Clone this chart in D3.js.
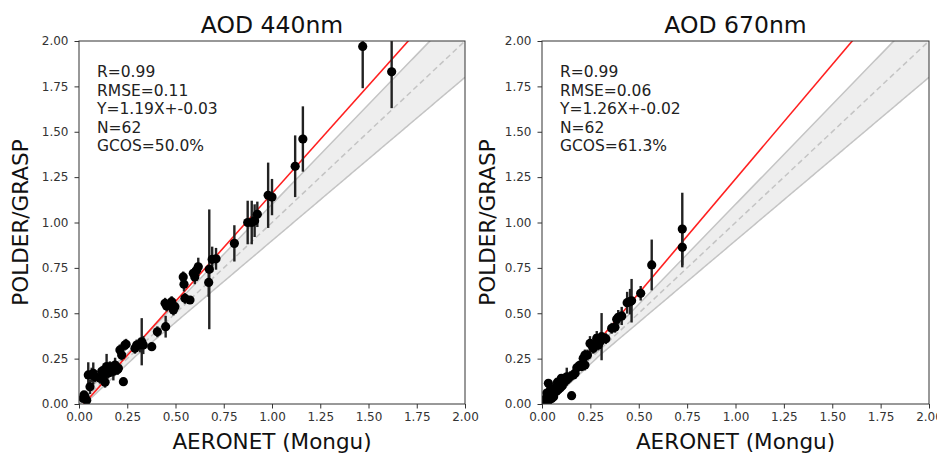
<!DOCTYPE html>
<html><head><meta charset="utf-8">
<script src="https://cdn.jsdelivr.net/npm/d3@7"></script>
<style>body{margin:0;background:#fff;} svg{display:block;font-family:"DejaVu Sans",sans-serif;}</style>
</head><body><svg id="c" width="937" height="453"></svg>
<script>
const tickValues = [0, 0.25, 0.5, 0.75, 1.0, 1.25, 1.5, 1.75, 2.0];
const titles = ["AOD 440nm", "AOD 670nm"];
const xLabel = "AERONET (Mongu)";
const yLabel = "POLDER/GRASP";
const statsLeft = ["R=0.99", "RMSE=0.11", "Y=1.19X+-0.03", "N=62", "GCOS=50.0%"];
const statsRight = ["R=0.99", "RMSE=0.06", "Y=1.26X+-0.02", "N=62", "GCOS=61.3%"];
const fitLeft = {slope: 1.19, intercept: -0.03};
const fitRight = {slope: 1.26, intercept: -0.02};

const x440 = [1.47,1.62,1.16,1.12,0.98,1.00,0.924,0.91,0.895,0.874,0.805,0.71,0.69,0.675,0.672,0.618,0.61,0.592,0.60,0.54,0.544,0.549,0.575,0.48,0.497,0.489,0.446,0.454,0.449,0.406,0.377,0.325,0.333,0.316,0.29,0.299,0.238,0.244,0.212,0.221,0.23,0.187,0.204,0.17,0.178,0.16,0.126,0.143,0.109,0.118,0.074,0.083,0.066,0.048,0.057,0.031,0.022,0.04,0.026,0.15,0.20,0.135];
const y440 = [1.97,1.83,1.46,1.31,1.15,1.14,1.045,1.01,1.00,1.00,0.885,0.80,0.797,0.742,0.67,0.756,0.738,0.72,0.70,0.70,0.66,0.582,0.573,0.564,0.536,0.518,0.555,0.54,0.426,0.398,0.316,0.343,0.325,0.325,0.307,0.325,0.325,0.329,0.298,0.27,0.123,0.215,0.197,0.19,0.18,0.205,0.16,0.206,0.142,0.18,0.169,0.15,0.16,0.16,0.095,0.04,0.031,0.02,0.05,0.17,0.19,0.12];
const e440 = [0.23,0.20,0.18,0.17,0.18,0.10,0.07,0.09,0.12,0.12,0.10,0.06,0.07,0.33,0.08,0.05,0.04,0.03,0.04,0.03,0.04,0.03,0.02,0.03,0.04,0.03,0.03,0.03,0.06,0.03,0.02,0.13,0.05,0.04,0.03,0.03,0.03,0.03,0.03,0.03,0.02,0.04,0.03,0.04,0.05,0.03,0.05,0.07,0.03,0.03,0.06,0.03,0.04,0.07,0.04,0.02,0.01,0.01,0.02,0.03,0.03,0.03];

const x670 = [0.725,0.725,0.567,0.51,0.455,0.44,0.463,0.412,0.394,0.386,0.377,0.36,0.308,0.30,0.291,0.274,0.257,0.248,0.265,0.283,0.222,0.213,0.205,0.222,0.196,0.171,0.162,0.145,0.128,0.10,0.153,0.033,0.11,0.09,0.08,0.07,0.06,0.05,0.04,0.03,0.02,0.015,0.01,0.045,0.055,0.065,0.075,0.085,0.095,0.105,0.115,0.125,0.135,0.035,0.025,0.05,0.06,0.02,0.08,0.18,0.235,0.33];
const y670 = [0.964,0.863,0.766,0.61,0.564,0.558,0.569,0.485,0.478,0.467,0.423,0.417,0.371,0.343,0.325,0.334,0.325,0.334,0.307,0.362,0.27,0.252,0.206,0.215,0.215,0.169,0.16,0.15,0.15,0.142,0.046,0.114,0.12,0.11,0.10,0.09,0.08,0.06,0.05,0.04,0.03,0.02,0.01,0.085,0.05,0.065,0.07,0.08,0.09,0.10,0.13,0.13,0.14,0.02,0.06,0.03,0.04,0.005,0.12,0.20,0.27,0.36];
const e670 = [0.20,0.11,0.14,0.04,0.07,0.06,0.12,0.05,0.04,0.03,0.03,0.03,0.13,0.04,0.03,0.05,0.03,0.04,0.03,0.04,0.03,0.03,0.02,0.03,0.02,0.03,0.02,0.03,0.05,0.02,0.01,0.02,0.02,0.02,0.02,0.02,0.01,0.01,0.01,0.01,0.01,0.01,0.01,0.02,0.01,0.01,0.01,0.02,0.02,0.02,0.02,0.02,0.02,0.01,0.01,0.01,0.01,0.01,0.02,0.03,0.03,0.03];

const svg = d3.select("#c");
const panels = [
  {left: 79, right: 465, ylabX: 28, title: titles[0], stats: statsLeft, fit: fitLeft, xs: x440, ys: y440, es: e440},
  {left: 542, right: 929, ylabX: 495, title: titles[1], stats: statsRight, fit: fitRight, xs: x670, ys: y670, es: e670}
];
const plotTop = 41, plotBottom = 404;

panels.forEach((p, i) => {
  const x = d3.scaleLinear().domain([0, 2]).range([p.left, p.right]);
  const y = d3.scaleLinear().domain([0, 2]).range([plotBottom, plotTop]);
  const cid = "clip" + i;
  svg.append("clipPath").attr("id", cid).append("rect")
    .attr("x", p.left).attr("y", plotTop).attr("width", p.right - p.left).attr("height", plotBottom - plotTop);
  const g = svg.append("g").attr("clip-path", `url(#${cid})`);

  // GCOS envelope: y = x +/- max(0.03, 0.1x)
  const xsEnv = d3.range(0, 2.0001, 0.01);
  const env = (v) => Math.max(0.03, 0.1 * v);
  g.append("path")
    .datum(xsEnv)
    .attr("d", d3.area().x(d => x(d)).y0(d => y(d - env(d))).y1(d => y(d + env(d))))
    .attr("fill", "#eeeeee");
  [1, -1].forEach(s => {
    g.append("path").datum(xsEnv)
      .attr("d", d3.line().x(d => x(d)).y(d => y(d + s * env(d))))
      .attr("fill", "none").attr("stroke", "#c4c4c4").attr("stroke-width", 1.5);
  });
  // 1:1 dashed
  g.append("line").attr("x1", x(0)).attr("y1", y(0)).attr("x2", x(2)).attr("y2", y(2))
    .attr("stroke", "#c4c4c4").attr("stroke-width", 1.5).attr("stroke-dasharray", "5.5,3.5");
  // fit line
  g.append("line").attr("x1", x(0)).attr("y1", y(p.fit.intercept))
    .attr("x2", x(2)).attr("y2", y(p.fit.slope * 2 + p.fit.intercept))
    .attr("stroke", "#ff2020").attr("stroke-width", 1.6);

  const data = p.xs.map((v, k) => ({x: v, y: p.ys[k], e: p.es[k]}));
  g.selectAll(".eb").data(data).enter().append("line")
    .attr("x1", d => x(d.x)).attr("x2", d => x(d.x))
    .attr("y1", d => y(d.y - d.e)).attr("y2", d => y(d.y + d.e))
    .attr("stroke", "#222").attr("stroke-width", 2.4);
  g.selectAll(".pt").data(data).enter().append("circle")
    .attr("cx", d => x(d.x)).attr("cy", d => y(d.y)).attr("r", 4.6).attr("fill", "#000");

  // axes
  const xa = svg.append("g").attr("transform", `translate(0,${plotBottom})`)
    .call(d3.axisBottom(x).tickValues(tickValues).tickFormat(d3.format(".2f")).tickSize(4.5).tickPadding(4));
  const ya = svg.append("g").attr("transform", `translate(${p.left},0)`)
    .call(d3.axisLeft(y).tickValues(tickValues).tickFormat(d3.format(".2f")).tickSize(4.5).tickPadding(6));
  [xa, ya].forEach(a => {
    a.select(".domain").remove();
    a.selectAll("text").attr("font-size", 12).attr("fill", "#333").attr("font-family", "DejaVu Sans");
    a.selectAll("line").attr("stroke", "#333");
  });
  svg.append("rect").attr("x", p.left).attr("y", plotTop).attr("width", p.right - p.left).attr("height", plotBottom - plotTop)
    .attr("fill", "none").attr("stroke", "#333").attr("stroke-width", 1);

  const cx = (p.left + p.right) / 2;
  svg.append("text").attr("x", cx).attr("y", 33).attr("text-anchor", "middle")
    .attr("font-size", 23.5).attr("fill", "#111").text(p.title);
  svg.append("text").attr("x", cx).attr("y", 449).attr("text-anchor", "middle")
    .attr("font-size", 21.5).attr("fill", "#111").text(xLabel);
  svg.append("text").attr("transform", `translate(${p.ylabX},${(plotTop + plotBottom) / 2}) rotate(-90)`)
    .attr("text-anchor", "middle").attr("font-size", 21.5).attr("fill", "#111").text(yLabel);

  p.stats.forEach((s, k) => {
    svg.append("text").attr("x", p.left + 18).attr("y", 77 + k * 18.5)
      .attr("font-size", 15.5).attr("fill", "#222").text(s);
  });
});
</script></body></html>
